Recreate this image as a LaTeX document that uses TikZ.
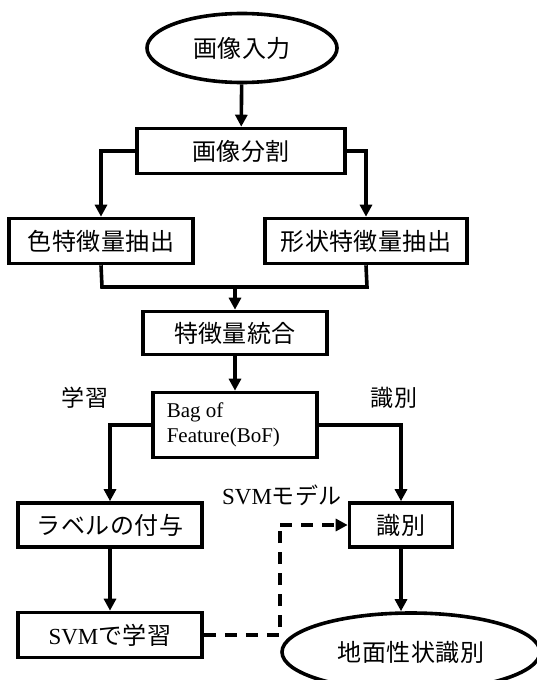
\documentclass[tikz,border=0pt]{standalone}
\usepackage{fontspec}
\setmainfont{Liberation Serif}
\newfontfamily\jp[LetterSpace=2]{Noto Sans CJK JP}
\usetikzlibrary{arrows.meta,shapes.geometric}
\begin{document}
\begin{tikzpicture}[x=1pt,y=-1pt,
  line width=3.6pt,
  box/.style={draw,rectangle,inner sep=0pt,font=\jp\fontsize{24}{26}\selectfont},
  oval/.style={draw,ellipse,inner sep=0pt,font=\jp\fontsize{24}{26}\selectfont},
  lbl/.style={inner sep=0pt,font=\jp\fontsize{23}{25}\selectfont},
  arr/.style={-{Triangle[length=12pt,width=12pt]}},
  dsh/.style={dash pattern=on 12pt off 9pt}]
\useasboundingbox (0,0) rectangle (536,680);
\node[oval,minimum width=190,minimum height=69] (in) at (242,48) {画像入力};
\node[box,minimum width=208,minimum height=45] (seg) at (241,151) {画像分割};
\node[box,minimum width=184,minimum height=45] (col) at (101,241) {色特徴量抽出};
\node[box,minimum width=202,minimum height=45] (shp) at (366,241) {形状特徴量抽出};
\node[box,minimum width=184,minimum height=43] (int) at (235,333) {特徴量統合};
\node[box,minimum width=164,minimum height=65] (bof) at (235,425) {};
\node[anchor=west,inner sep=0pt,align=left,font=\fontsize{21}{25}\selectfont] (boft) at (165,425) {Bag of\\Feature(BoF)};
\node[lbl] (lrn) at (85,398) {学習};
\node[lbl] (idl) at (394,398) {識別};
\node[box,minimum width=184,minimum height=44] (lab) at (110,525) {ラベルの付与};
\node[box,minimum width=103,minimum height=44] (idf) at (401,525) {識別};
\node[box,minimum width=184,minimum height=45] (svm) at (110,635) {{\rmfamily\fontsize{23}{25}\selectfont SVM}で学習};
\node[inner sep=0pt] (svmm) at (282,495) {{\fontsize{23}{25}\selectfont SVM}{\jp\fontsize{23}{25}\selectfont モデル}};
\node[oval,minimum width=258,minimum height=78] (res) at (411,652) {地面性状識別};
\coordinate (cL) at (102,287);
\coordinate (cR) at (367,287);
\coordinate (dc) at (280,635);
\coordinate (du) at (280,525);
\draw[arr] (in) -- (seg);
\draw[arr] (seg.west) -| (col.north);
\draw[arr] (seg.east) -| (shp.north);
\draw (col.south) -- (cL) -- (cR) -- (shp.south);
\draw[arr] (int.north |- cL) -- (int.north);
\draw[arr] (int) -- (bof);
\draw[arr] (bof.west) -| (lab.north);
\draw[arr] (bof.east) -| (idf.north);
\draw[arr] (lab) -- (svm);
\draw[arr] (idf.south) -- (idf.south |- res.north);
\draw[dsh] (svm.east) -- (dc) -- (du);
\draw[arr,dsh] (du) -- (idf.west);
\end{tikzpicture}
\end{document}
